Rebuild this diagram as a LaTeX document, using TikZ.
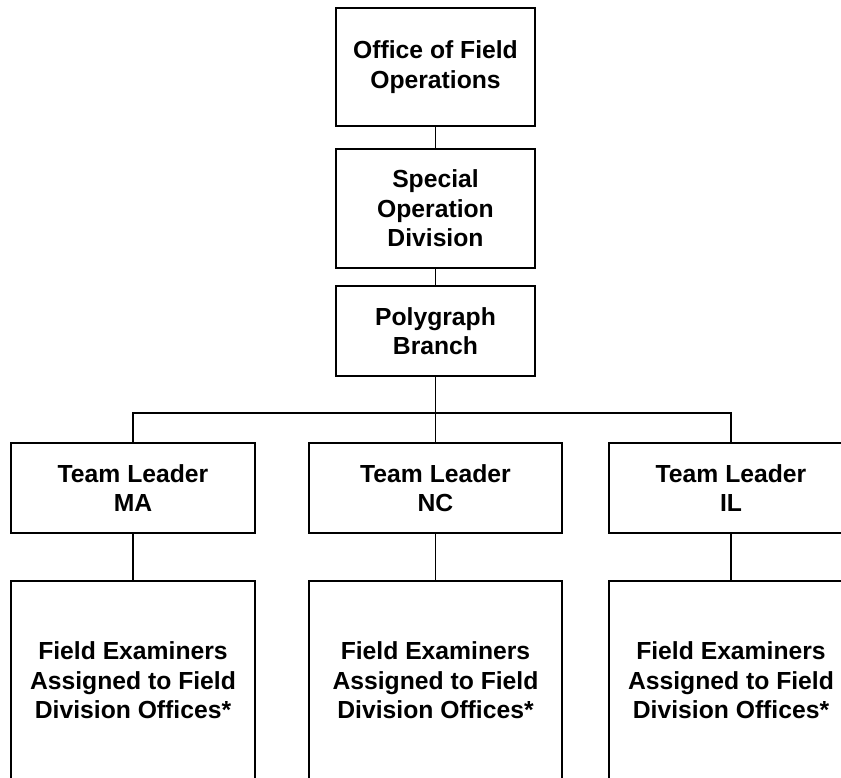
\documentclass[tikz,border=0pt]{standalone}
\usepackage{fontspec}
\setmainfont{Liberation Sans}
\begin{document}
\begin{tikzpicture}[x=1pt,y=-1pt,
  box/.style={draw=black, line width=1.8pt, rectangle, inner sep=0pt, align=center,
    font=\fontsize{24.7}{29.5}\selectfont\bfseries, text=black},
  conn/.style={draw=black, line width=1.8pt}]
\useasboundingbox (0,0) rectangle (841,778);
\clip (0,0) rectangle (841,778);
\node[box, minimum width=199pt, minimum height=118pt] (ofo) at (435.5,67) {Office of Field\\Operations};
\node[box, minimum width=199pt, minimum height=119pt] (sod) at (435.5,208.5) {Special\\Operation\\Division};
\node[box, minimum width=199pt, minimum height=90pt] (pb) at (435.5,331) {Polygraph\\Branch};
\node[box, minimum width=244pt, minimum height=90pt] (ma) at (133,488) {Team Leader\\MA};
\node[box, minimum width=253pt, minimum height=90pt] (nc) at (435.5,488) {Team Leader\\NC};
\node[box, minimum width=244pt, minimum height=90pt] (il) at (731,488) {Team Leader\\IL};
\node[box, minimum width=244pt, minimum height=199pt] (fma) at (133,680.5) {Field Examiners\\Assigned to Field\\Division Offices*};
\node[box, minimum width=253pt, minimum height=199pt] (fnc) at (435.5,680.5) {Field Examiners\\Assigned to Field\\Division Offices*};
\node[box, minimum width=244pt, minimum height=199pt] (fil) at (731,680.5) {Field Examiners\\Assigned to Field\\Division Offices*};
\coordinate (bar) at (435.5,413);
\draw[conn] (ofo.south) -- (sod.north);
\draw[conn] (sod.south) -- (pb.north);
\draw[conn] (pb.south) -- (bar);
\draw[conn] (ma.north) |- (bar) -| (il.north);
\draw[conn] (bar) -- (nc.north);
\draw[conn] (ma.south) -- (fma.north);
\draw[conn] (nc.south) -- (fnc.north);
\draw[conn] (il.south) -- (fil.north);
\end{tikzpicture}
\end{document}
